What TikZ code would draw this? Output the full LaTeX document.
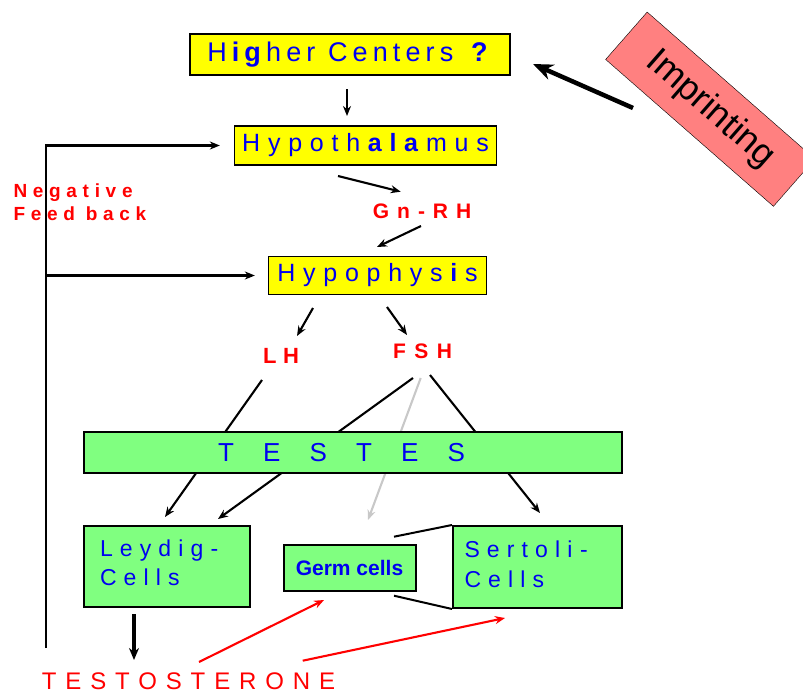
\documentclass[tikz,border=0pt]{standalone}
\usepackage{fontspec}
\setmainfont{Liberation Sans}
\usetikzlibrary{arrows.meta, positioning}
\definecolor{boxyellow}{RGB}{255,255,0}
\definecolor{boxgreen}{RGB}{128,255,128}
\definecolor{txtblue}{RGB}{0,0,240}
\definecolor{txtred}{RGB}{255,0,0}
\definecolor{pinkbox}{RGB}{255,128,128}
\definecolor{fshgray}{RGB}{200,200,200}
\newcommand{\sized}[1]{\fontsize{#1}{#1}\selectfont}
\newcommand{\spread}[1]{\addfontfeature{LetterSpace=#1}}

\begin{document}
\begin{tikzpicture}[x=1pt, y=-1pt,
    yellowbox/.style={draw, line width=1.3pt, fill=boxyellow, text=txtblue, inner sep=0pt},
    greenbox/.style={draw, line width=2pt, fill=boxgreen, text=txtblue, inner sep=0pt},
    redlabel/.style={text=txtred, anchor=base west, inner sep=0pt},
    arr/.style={-{Stealth[length=10pt, width=8pt]}, line width=2.1pt},
    bigarr/.style={-{Stealth[length=12pt, width=10pt]}, line width=3.4pt}]
  \useasboundingbox (0,0) rectangle (803,693);
  \clip (0,0) rectangle (803,693);

  % hypothalamic axis
  \node[yellowbox, minimum width=320pt, minimum height=41pt, font=\sized{27}\spread{19}] (higher) at (350,54.5) {H\textbf{ig}her Centers \textbf{?}};
  \node[yellowbox, minimum width=262pt, minimum height=39pt, font=\sized{25}\spread{31}] (hypo) at (365.5,145.5) {Hypoth\textbf{ala}mus};
  \node[yellowbox, minimum width=218pt, minimum height=38pt, font=\sized{25}\spread{31}] (hyph) at (377.5,275.5) {Hypophys\textbf{i}s};
  \node[redlabel, font=\sized{21}\bfseries\spread{38}] (gnrh) at (372.7,218.3) {Gn-RH};
  \node[redlabel, font=\sized{22}\bfseries\spread{30}] (lh) at (263,363) {LH};
  \node[redlabel, font=\sized{21}\bfseries\spread{40}] (fsh) at (393,358) {FSH};

  \coordinate (hcOut) at (347,89);   \coordinate (hyIn) at (347,116);
  \coordinate (hyOut) at (338,176);  \coordinate (gnIn) at (400.7,191.7);
  \coordinate (gnOut) at (421,226);  \coordinate (phIn) at (377,247);
  \coordinate (phL) at (313,308);    \coordinate (lhIn) at (297,336);
  \coordinate (phR) at (387,307);    \coordinate (fshIn) at (407,335);
  \draw[arr] (hcOut) -- (hyIn);
  \draw[arr] (hyOut) -- (gnIn);
  \draw[arr] (gnOut) -- (phIn);
  \draw[arr] (phL) -- (lhIn);
  \draw[arr] (phR) -- (fshIn);

  % imprinting
  \node[draw, fill=pinkbox, rotate=-41.2, minimum width=223pt, minimum height=63pt, font=\sized{36}] (imprint) at (710.3,109.2) {Imprinting};
  \coordinate (impOut) at (633,108);
  \coordinate (hcIn) at (533,64);
  \draw[-{Stealth[length=20pt, width=16pt]}, line width=4.5pt] (impOut) -- (hcIn);

  % testes and cells
  \node[greenbox, minimum width=166pt, minimum height=81pt, text width=134pt, text depth=36pt, align=left, font=\sized{23}\spread{31}] (leydig) at (167,566.5) {Leydig-\\[6pt]Cells};
  \node[greenbox, minimum width=132pt, minimum height=46pt, font=\sized{21}\bfseries] (germ) at (349.5,568) {Germ cells};
  \node[greenbox, minimum width=169pt, minimum height=82pt, text width=146pt, text depth=35pt, align=left, font=\sized{23}\spread{31}] (sertoli) at (537.5,567) {Sertoli -\\[6.5pt]Cells};

  \coordinate (lhOut) at (262,380);    \coordinate (leyIn1) at (165,517);
  \coordinate (fshOut1) at (413,378);  \coordinate (leyIn2) at (218,519);
  \coordinate (fshOut2) at (420.7,378);\coordinate (germIn) at (368,520);
  \coordinate (fshOut3) at (430,375);  \coordinate (serIn) at (540,513);
  \draw[arr] (lhOut) -- (leyIn1);
  \draw[arr] (fshOut1) -- (leyIn2);
  \draw[arr, fshgray] (fshOut2) -- (germIn);
  \draw[arr] (fshOut3) -- (serIn);
  \node[greenbox, minimum width=538pt, minimum height=41pt, font=\sized{26}\spread{112}] (testes) at (353,452.5) {TESTES\kern23pt};

  \coordinate (germTop) at (394,536.7);
  \coordinate (germBot) at (394,595.7);
  \draw[line width=2pt] (germTop) -- (sertoli.north west);
  \draw[line width=2pt] (germBot) -- (sertoli.south west);

  % testosterone and feedback
  \node[redlabel, font=\sized{24}\spread{37}] (testo) at (41.7,689) {TESTOSTERONE};
  \coordinate (leyOut) at (134,614); \coordinate (teIn) at (134,660);
  \draw[bigarr] (leyOut) -- (teIn);
  \coordinate (teOut1) at (199,662);   \coordinate (germUp) at (324,600);
  \coordinate (teOut2) at (302.7,660.7); \coordinate (serUp) at (505,618);
  \draw[arr, txtred] (teOut1) -- (germUp);
  \draw[arr, txtred] (teOut2) -- (serUp);

  \coordinate (fbBot) at (46,648);
  \draw[arr, shorten >=14pt] (fbBot) |- (hypo.west);
  \draw[arr, shorten >=13pt] (fbBot |- hyph.west) -- (hyph.west);
  \node[redlabel, font=\sized{19}\bfseries\spread{30}] (neg) at (13.3,197.3) {Negative};
  \node[redlabel, font=\sized{19}\bfseries\spread{30}] (feed) at (13.3,220) {Feed back};
\end{tikzpicture}
\end{document}
